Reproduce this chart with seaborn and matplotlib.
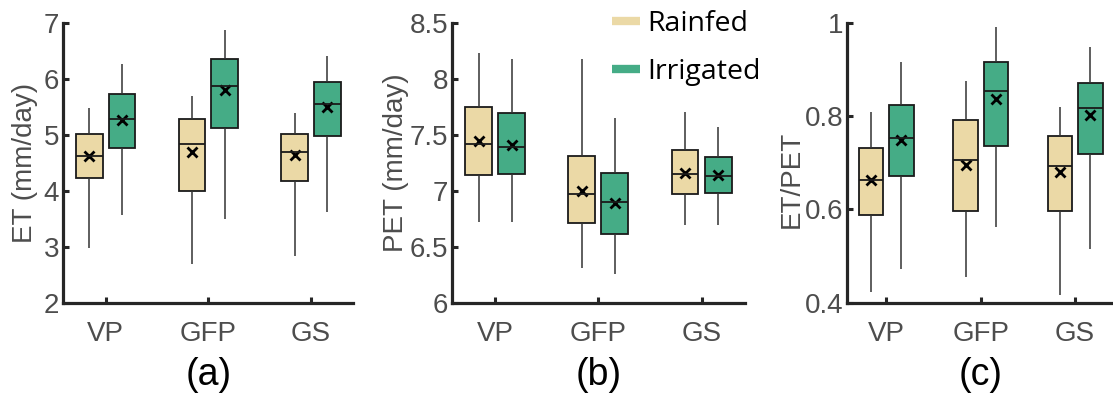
import numpy as np
import pandas as pd
import matplotlib
matplotlib.use("Agg")
import matplotlib.pyplot as plt
import seaborn as sns
from matplotlib.lines import Line2D
from matplotlib.ticker import FormatStrFormatter

# categorias y grupos
sites = ["VP", "GFP", "GS"]
groups = ["Rainfed", "Irrigated"]

# resumen de cinco numeros por sitio: [min, q1, mediana, q3, max]
et_rainfed = [[2.98, 4.23, 4.62, 5.02, 5.47],
              [2.69, 4.00, 4.83, 5.28, 5.70],
              [2.83, 4.17, 4.69, 5.02, 5.39]]
et_irrigated = [[3.57, 4.77, 5.28, 5.73, 6.26],
                [3.50, 5.12, 5.87, 6.36, 6.87],
                [3.62, 4.98, 5.55, 5.95, 6.41]]
et_rainfed_mean = [4.62, 4.70, 4.64]
et_irrigated_mean = [5.26, 5.79, 5.49]

pet_rainfed = [[6.72, 7.14, 7.42, 7.75, 8.23],
               [6.31, 6.71, 6.97, 7.31, 8.18],
               [6.69, 6.97, 7.15, 7.36, 7.70]]
pet_irrigated = [[6.72, 7.15, 7.39, 7.69, 8.18],
                 [6.26, 6.61, 6.90, 7.16, 7.65],
                 [6.69, 6.98, 7.13, 7.30, 7.57]]
pet_rainfed_mean = [7.44, 7.00, 7.16]
pet_irrigated_mean = [7.41, 6.89, 7.14]

ratio_rainfed = [[0.423, 0.588, 0.662, 0.732, 0.809],
                 [0.455, 0.597, 0.706, 0.792, 0.876],
                 [0.416, 0.596, 0.694, 0.757, 0.819]]
ratio_irrigated = [[0.472, 0.671, 0.752, 0.823, 0.915],
                   [0.562, 0.736, 0.854, 0.916, 0.991],
                   [0.516, 0.718, 0.817, 0.871, 0.948]]
ratio_rainfed_mean = [0.662, 0.695, 0.681]
ratio_irrigated_mean = [0.749, 0.836, 0.802]

colores = ["#EBD9A6", "#45AC86"]
gris = "#4d4d4d"
oscuro = "#262626"


def tabla(rain, irr):
    filas = []
    for i, s in enumerate(sites):
        for g, datos in zip(groups, [rain, irr]):
            for v in datos[i]:
                filas.append({"site": s, "group": g, "value": v})
    return pd.DataFrame(filas)


def tabla_media(rain_m, irr_m):
    filas = []
    for i, s in enumerate(sites):
        filas.append({"site": s, "group": "Rainfed", "value": rain_m[i]})
        filas.append({"site": s, "group": "Irrigated", "value": irr_m[i]})
    return pd.DataFrame(filas)


sns.set_style("white")
plt.rcParams["font.family"] = ["Liberation Sans", "DejaVu Sans"]

fig = plt.figure(figsize=(11.13, 4.01), dpi=100)
W, H = 1113, 401
bottom = (H - 302.7) / H
height = 280 / H
ax_a = fig.add_axes([62.7 / W, bottom, 290.3 / W, height])
ax_b = fig.add_axes([451.7 / W, bottom, 293.3 / W, height])
ax_c = fig.add_axes([846.7 / W, bottom, 265.3 / W, height])

paneles = [
    (ax_a, et_rainfed, et_irrigated, et_rainfed_mean, et_irrigated_mean,
     "ET (mm/day)", (2, 7), np.arange(2, 7.01, 1), "%g", (-0.42, 2.41), -0.085, 0.5, "(a)"),
    (ax_b, pet_rainfed, pet_irrigated, pet_rainfed_mean, pet_irrigated_mean,
     "PET (mm/day)", (6, 8.5), np.arange(6, 8.51, 0.5), "%g", (-0.42, 2.42), -0.146, 0.5, "(b)"),
    (ax_c, ratio_rainfed, ratio_irrigated, ratio_rainfed_mean, ratio_irrigated_mean,
     "ET/PET", (0.4, 1.0), np.arange(0.4, 1.01, 0.2), "%g", (-0.42, 2.39), -0.157, 0.44, "(c)"),
]

for ax, rain, irr, rm, im, ylab, ylim, yt, fmt, xlim, lx, ly, letra in paneles:
    df = tabla(rain, irr)
    sns.boxplot(data=df, x="site", y="value", hue="group", order=sites, hue_order=groups,
                palette=colores, saturation=1, width=0.64, gap=0.19, whis=(0, 100),
                linecolor="#1a1a1a", linewidth=1.3, showfliers=False,
                whiskerprops=dict(color="#333333", linewidth=1.1),
                capprops=dict(linewidth=0), legend=False, ax=ax)
    dm = tabla_media(rm, im)
    sns.pointplot(data=dm, x="site", y="value", hue="group", order=sites, hue_order=groups,
                  palette=["black", "black"], markers="x", linestyle="none", dodge=0.32,
                  errorbar=None, markersize=7.5, markeredgewidth=2, legend=False, ax=ax)
    ax.set_xlim(*xlim)
    ax.set_ylim(*ylim)
    ax.set_yticks(yt)
    ax.yaxis.set_major_formatter(FormatStrFormatter(fmt))
    ax.set_xlabel("")
    ax.set_ylabel(ylab, fontsize=20, color=gris)
    ax.yaxis.set_label_coords(lx, ly)
    for lado in ["top", "right"]:
        ax.spines[lado].set_visible(False)
    for lado in ["left", "bottom"]:
        ax.spines[lado].set_linewidth(2.3)
        ax.spines[lado].set_color(oscuro)
    ax.tick_params(axis="both", direction="in", length=4, width=2.2, color=oscuro,
                   labelcolor=gris, labelsize=20, bottom=True, left=True)
    ax.tick_params(axis="y", pad=2.5)
    ax.tick_params(axis="x", pad=13)
    ax.patch.set_alpha(0)
    ax.text(1, -0.258, letra, transform=ax.get_xaxis_transform(), ha="center",
            va="center", fontsize=27, color="black")

manijas = [Line2D([0], [0], color=c, linewidth=6, solid_capstyle="butt") for c in colores]
fig.legend(manijas, groups, loc="upper left", bbox_to_anchor=(606 / W, 1 - 4 / H),
           frameon=False, prop={"family": "Open Sans", "size": 20.5}, handlelength=1.0,
           handletextpad=0.25, labelspacing=0.72, borderaxespad=0, borderpad=0.2,
           labelcolor="black")

fig.savefig("out.png", dpi=100)
